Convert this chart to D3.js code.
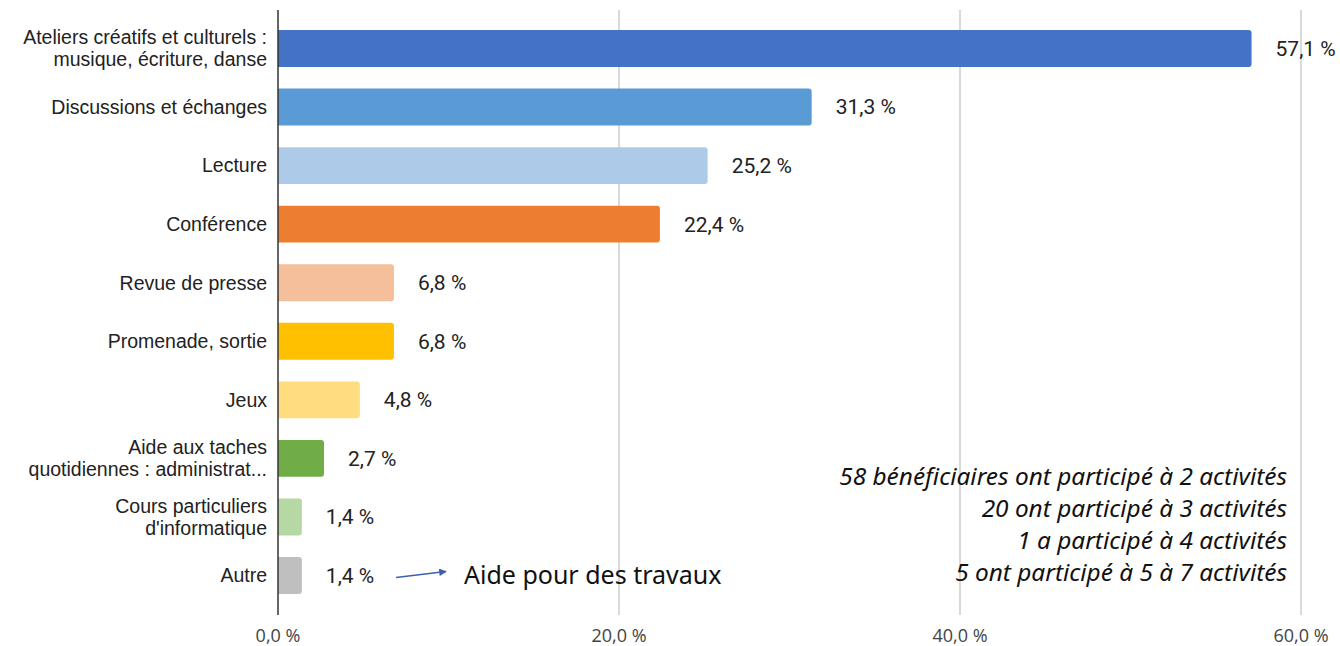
<!DOCTYPE html>
<html>
<head>
<meta charset="utf-8">
<script src="https://cdn.jsdelivr.net/npm/d3@7"></script>
<style>
  body { margin: 0; background: #fff; }
  svg { display: block; }
</style>
</head>
<body>
<div id="chart"></div>
<script>
var categories = [
  ["Ateliers créatifs et culturels :", "musique, écriture, danse"],
  ["Discussions et échanges"],
  ["Lecture"],
  ["Conférence"],
  ["Revue de presse"],
  ["Promenade, sortie"],
  ["Jeux"],
  ["Aide aux taches", "quotidiennes : administrat..."],
  ["Cours particuliers", "d'informatique"],
  ["Autre"]
];
var values = [57.1, 31.3, 25.2, 22.4, 6.8, 6.8, 4.8, 2.7, 1.4, 1.4];
var colors = ["#4472c4", "#5b9bd5", "#adcbe9", "#ed7d31", "#f4bf9a",
              "#ffc000", "#ffdc7f", "#70ad47", "#b6d8a2", "#bfbfbf"];
var ticks = [0, 20, 40, 60];
var notes = [
  "58 bénéficiaires ont participé à 2 activités",
  "20 ont participé à 3 activités",
  "1 a participé à 4 activités",
  "5 ont participé à 5 à 7 activités"
];
var otherNote = "Aide pour des travaux";

var W = 1340, H = 646;
var fmt = function(v) { return d3.format(".1f")(v).replace(".", ",") + " %"; };

var svg = d3.select("#chart").append("svg")
    .attr("width", W)
    .attr("height", H);

var x = d3.scaleLinear().domain([0, 60]).range([278, 1301]);
var y = d3.scaleBand()
    .domain(d3.range(categories.length))
    .range([19.2, 604.8])
    .paddingInner(0.37)
    .paddingOuter(0.185);

// gridlines
svg.selectAll(".grid")
  .data(ticks.slice(1))
  .enter().append("line")
    .attr("x1", function(d) { return x(d); })
    .attr("x2", function(d) { return x(d); })
    .attr("y1", 10)
    .attr("y2", 615)
    .attr("stroke", "#cccccc")
    .attr("stroke-width", 1.5);

// tick labels
svg.selectAll(".tick")
  .data(ticks)
  .enter().append("text")
    .attr("x", function(d) { return x(d); })
    .attr("y", 636)
    .attr("dy", "0.35em")
    .attr("text-anchor", "middle")
    .attr("font-family", "Open Sans, sans-serif")
    .attr("font-size", 18)
    .attr("fill", "#444")
    .text(fmt);

// bars with rounded right end
function barPath(i) {
  var x0 = x(0), x1 = x(values[i]), y0 = y(i), h = y.bandwidth();
  var r = Math.min(3, (x1 - x0) / 2);
  return "M" + x0 + "," + y0 +
    "H" + (x1 - r) +
    "Q" + x1 + "," + y0 + " " + x1 + "," + (y0 + r) +
    "V" + (y0 + h - r) +
    "Q" + x1 + "," + (y0 + h) + " " + (x1 - r) + "," + (y0 + h) +
    "H" + x0 + "Z";
}

svg.selectAll(".bar")
  .data(values)
  .enter().append("path")
    .attr("class", "bar")
    .attr("d", function(d, i) { return barPath(i); })
    .attr("fill", function(d, i) { return colors[i]; });

// value labels
svg.selectAll(".val")
  .data(values)
  .enter().append("text")
    .attr("x", function(d) { return x(d) + 24; })
    .attr("y", function(d, i) { return y(i) + y.bandwidth() / 2; })
    .attr("dy", "0.35em")
    .attr("font-family", "Roboto, sans-serif")
    .attr("font-size", 21)
    .attr("fill", "#222")
    .text(fmt);

// category labels
var lab = svg.selectAll(".cat")
  .data(categories)
  .enter().append("text")
    .attr("text-anchor", "end")
    .attr("font-family", "Liberation Sans, Arial, sans-serif")
    .attr("font-size", 19.5)
    .attr("fill", "#222")
    .attr("transform", function(d, i) {
      return "translate(267," + (y(i) + y.bandwidth() / 2) + ")";
    });

lab.selectAll("tspan")
  .data(function(d) { return d; })
  .enter().append("tspan")
    .attr("x", 0)
    .attr("y", function(d, j, nodes) {
      var n = nodes.length;
      return (j - (n - 1) / 2) * 22;
    })
    .attr("dy", "0.35em")
    .text(function(d) { return d; });

// y axis line
svg.append("line")
  .attr("x1", x(0)).attr("x2", x(0))
  .attr("y1", 10).attr("y2", 615)
  .attr("stroke", "#333")
  .attr("stroke-width", 1.5);

// notes
svg.selectAll(".note")
  .data(notes)
  .enter().append("text")
    .attr("x", 1287)
    .attr("y", function(d, i) { return 485 + i * 32; })
    .attr("text-anchor", "end")
    .attr("font-family", "Noto Sans, sans-serif")
    .attr("font-style", "italic")
    .attr("font-size", 24.4)
    .attr("fill", "#111")
    .text(function(d) { return d; });

// arrow for "Autre"
var ia = categories.length - 1;
var ay = y(ia) + y.bandwidth() / 2;
svg.append("defs").append("marker")
    .attr("id", "arr")
    .attr("viewBox", "0 0 10 10")
    .attr("refX", 9).attr("refY", 5)
    .attr("markerWidth", 7).attr("markerHeight", 5)
    .attr("orient", "auto")
  .append("path")
    .attr("d", "M0,0L10,5L0,10Z")
    .attr("fill", "#3d5fb0");

svg.append("line")
  .attr("x1", 396).attr("y1", ay + 2)
  .attr("x2", 446).attr("y2", ay - 4)
  .attr("stroke", "#3d5fb0")
  .attr("stroke-width", 1.5)
  .attr("marker-end", "url(#arr)");

svg.append("text")
  .attr("x", 464)
  .attr("y", ay)
  .attr("dy", "0.35em")
  .attr("font-family", "Noto Sans, sans-serif")
  .attr("font-size", 25)
  .attr("fill", "#111")
  .text(otherNote);
</script>
</body>
</html>
